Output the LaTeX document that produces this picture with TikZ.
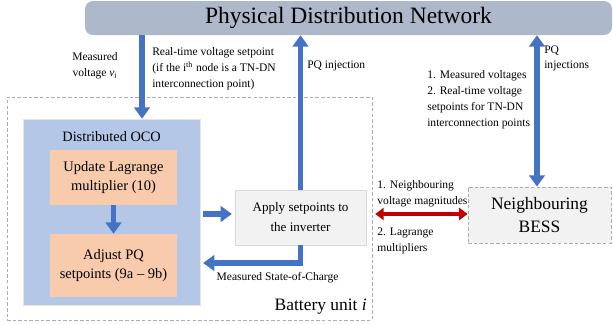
\documentclass[tikz,border=0pt]{standalone}
\usepackage{fontspec}
\setmainfont{Liberation Serif}
\usetikzlibrary{arrows.meta}
\definecolor{netgray}{HTML}{ADB9CA}
\definecolor{ocoblue}{HTML}{B4C7E7}
\definecolor{steporange}{HTML}{F8CBAD}
\definecolor{boxgray}{HTML}{F2F2F2}
\definecolor{flowblue}{HTML}{4472C4}
\definecolor{linkred}{HTML}{C00000}
\begin{document}
\begin{tikzpicture}[
  >={Triangle[width=11pt,length=8pt]},
  flow/.style={draw=flowblue, line width=3.8pt},
  link/.style={draw=linkred, line width=2.8pt, {Triangle[width=8.5pt,length=6pt]}-{Triangle[width=8.5pt,length=6pt]}},
  dashbox/.style={draw=gray!65, line width=0.6pt, dash pattern=on 2.5pt off 1.5pt},
  stepbox/.style={fill=steporange, minimum width=3.175cm, text centered,
    font=\fontsize{10.3}{14.2}\selectfont},
  lbl/.style={font=\fontsize{8.2}{11.3}\selectfont, inner sep=0pt}]
\useasboundingbox (0,0) rectangle (15.325,8.1);

\node[fill=netgray, rounded corners=0.2cm, minimum width=13.175cm, minimum height=0.85cm,
  font=\fontsize{16.7}{20}\selectfont] (net) at (8.7125,7.65) {Physical Distribution Network};

\node[dashbox, minimum width=9.125cm, minimum height=5.575cm] (unit) at (4.7375,2.8875) {};
\node[anchor=east, inner sep=0pt, font=\fontsize{12.4}{14.9}\selectfont] (unitlbl) at (9.175,0.425)
  {Battery unit \textit{i}};

\node[fill=ocoblue, draw=gray!20, minimum width=4.425cm, minimum height=4.65cm] (oco) at (2.7875,2.8) {};
\node[font=\fontsize{10.2}{14}\selectfont] (ocolbl) at (2.79,4.675) {Distributed OCO};
\node[stepbox, minimum height=1.375cm, align=center] (upd) at (2.8375,3.6625)
  {Update Lagrange\\multiplier (10)};
\node[stepbox, minimum height=1.575cm, align=center] (adj) at (2.8375,1.4625)
  {Adjust PQ\\setpoints (9a -- 9b)};

\node[fill=boxgray, draw=gray!30, minimum width=3.275cm, minimum height=1.375cm, align=center,
  font=\fontsize{9.3}{14.2}\selectfont] (app) at (7.5125,2.6625) {Apply setpoints to\\the inverter};

\node[fill=boxgray, dashbox, minimum width=3.575cm, minimum height=1.4cm, align=center,
  font=\fontsize{12.4}{16.5}\selectfont] (bess) at (13.4875,2.725) {Neighbouring\\BESS};

\coordinate (vin) at (3.55,0);
\coordinate (midy) at (0,2.75);
\coordinate (socy) at (0,1.525);
\coordinate (pqx) at (13.425,0);

\draw[flow, ->] (net.south -| vin) to (oco.north -| vin);
\draw[flow, ->] (upd.south) to (adj.north);
\draw[flow, ->, shorten <=2pt, shorten >=2pt] (oco.east |- midy) to (app.west |- midy);
\draw[flow, ->] (app.north) to (app.north |- net.south);
\draw[flow, ->, shorten >=2pt] (app.south) |- (oco.east |- socy);
\draw[flow, <->] (bess.north -| pqx) to (net.south -| pqx);
\draw[link, shorten <=2pt] (unit.east |- midy) to (bess.west |- midy);

\node[lbl, align=center] (vmeas) at (2.375,6.45) {Measured\\voltage \textit{v}\textsubscript{\textit{i}}};
\node[lbl, align=left, anchor=west] (vset) at (3.8,6.375)
  {Real-time voltage setpoint\\(if the i\textsuperscript{th} node is a TN-DN\\interconnection point)};
\node[lbl, anchor=west] (pqinj) at (7.675,6.45) {PQ injection};
\node[lbl, align=left, anchor=west] (pqinjs) at (13.6,6.64) {PQ\\injections};
\node[lbl, align=left, anchor=west] (meas) at (10.675,5.6)
  {1. Measured voltages\\2. Real-time voltage\\setpoints for TN-DN\\interconnection points};
\node[lbl, align=left, anchor=west] (nbvolt) at (9.43,3.2625) {1. Neighbouring\\voltage magnitudes};
\node[lbl, align=left, anchor=west] (nblag) at (9.43,2.075) {2. Lagrange\\multipliers};
\node[lbl] (soc) at (6.94,1.15) {Measured State-of-Charge};
\end{tikzpicture}
\end{document}
